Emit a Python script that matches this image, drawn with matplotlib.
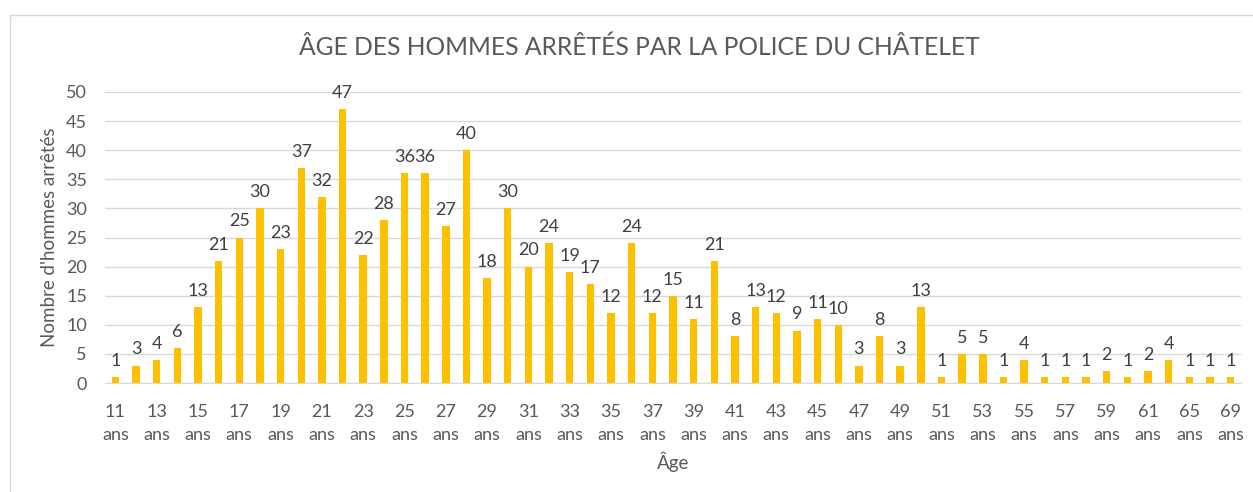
import matplotlib
matplotlib.use("Agg")
import matplotlib.pyplot as plt
from matplotlib.patches import Rectangle

ages = [11, 12, 13, 14, 15, 16, 17, 18, 19, 20, 21, 22, 23, 24, 25, 26, 27, 28, 29, 30,
        31, 32, 33, 34, 35, 36, 37, 38, 39, 40, 41, 42, 43, 44, 45, 46, 47, 48, 49, 50,
        51, 52, 53, 54, 55, 56, 57, 58, 59, 60, 61, 63, 65, 67, 69]
counts = [1, 3, 4, 6, 13, 21, 25, 30, 23, 37, 32, 47, 22, 28, 36, 36, 27, 40, 18, 30,
          20, 24, 19, 17, 12, 24, 12, 15, 11, 21, 8, 13, 12, 9, 11, 10, 3, 8, 3, 13,
          1, 5, 5, 1, 4, 1, 1, 1, 2, 1, 2, 4, 1, 1, 1]
labels = [f"{a}\nans" for a in ages]
title = "ÂGE DES HOMMES ARRÊTÉS PAR LA POLICE DU CHÂTELET"

plt.rcParams['font.family'] = ['Lato', 'DejaVu Sans']
txt = '#595959'

fig = plt.figure(figsize=(12.53, 4.92), dpi=100)
W, H = 1253, 492
fig.patches.append(Rectangle((10 / W, -0.1), 1.2, 1 - 15 / H + 0.1, transform=fig.transFigure,
                             fill=False, edgecolor='#D9D9D9', linewidth=1))
ax = fig.add_axes([105 / W, 1 - 383 / H, (1241 - 105) / W, (383 - 92) / H])

x = list(range(len(ages)))
bars = ax.bar(x, counts, width=0.36, color='#FFC000', zorder=3)
for xi, c in zip(x, counts):
    ax.text(xi, c + 1.4, str(c), ha='center', va='bottom', fontsize=13, color='#404040')

ax.set_xlim(-0.5, len(ages) - 0.5)
ax.set_ylim(0, 50)
ax.set_yticks(range(0, 51, 5))
ax.set_xticks(x[::2])
ax.set_xticklabels(labels[::2], fontsize=13, color=txt, linespacing=1.55)
ax.tick_params(axis='y', labelsize=13, labelcolor=txt, length=0, pad=13)
ax.tick_params(axis='x', length=0, pad=15)
ax.grid(axis='y', color='#D9D9D9', linewidth=1, zorder=0)
for s in ['top', 'right', 'left']:
    ax.spines[s].set_visible(False)
ax.spines['bottom'].set_color('#D9D9D9')

ax.set_ylabel("Nombre d'hommes arrêtés", fontsize=13.5, color=txt)
ax.yaxis.set_label_coords((58 - 105) / (1241 - 105), 0.5)
ax.set_xlabel("Âge", fontsize=13.5, color=txt)
ax.xaxis.set_label_coords(0.5, -(452 - 383) / (383 - 92))
fig.text(639 / W, 1 - 47 / H, title, ha='center', va='center', fontsize=17.7, color=txt)

fig.savefig('out.png', dpi=100)
